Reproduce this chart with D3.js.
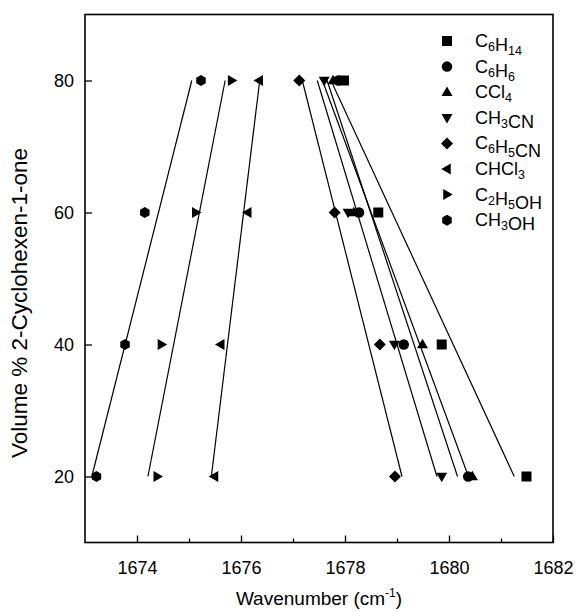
<!DOCTYPE html>
<html>
<head>
<meta charset="utf-8">
<script src="https://cdn.jsdelivr.net/npm/d3@7"></script>
<style>
  body { margin: 0; background: #fff; }
  text { font-family: "Liberation Sans", Arial, sans-serif; fill: #000; }
</style>
</head>
<body>
<div id="chart"></div>
<script>
// Data ===================================================
var volumes = [20, 40, 60, 80];

var c6h14  = [1681.49, 1679.86, 1678.64, 1677.98];
var c6h6   = [1680.37, 1679.13, 1678.27, 1677.87];
var ccl4   = [1680.45, 1679.49, 1678.17, 1677.77];
var ch3cn  = [1679.86, 1678.95, 1678.06, 1677.60];
var c6h5cn = [1678.96, 1678.67, 1677.80, 1677.12];
var chcl3  = [1675.49, 1675.61, 1676.13, 1676.35];
var c2h5oh = [1674.39, 1674.47, 1675.13, 1675.82];
var ch3oh  = [1673.22, 1673.77, 1674.15, 1675.23];

var solventNames = ["C6H14", "C6H6", "CCl4", "CH3CN", "C6H5CN", "CHCl3", "C2H5OH", "CH3OH"];
var solventValues = [c6h14, c6h6, ccl4, ch3cn, c6h5cn, chcl3, c2h5oh, ch3oh];
var markerKinds = ["square", "circle", "up", "down", "diamond", "left", "right", "hexagon"];

var xTicks = [1674, 1676, 1678, 1680, 1682];
var xMinorTicks = [1675, 1677, 1679, 1681];
var yTicks = [20, 40, 60, 80];

// Canvas ==================================================
var width = 580;
var height = 612;

var svg = d3.select("#chart")
    .append("svg")
    .attr("width", width)
    .attr("height", height);

var xScale = d3.scaleLinear().domain([1673, 1682]).range([85, 553]);
var yScale = d3.scaleLinear().domain([10, 90]).range([542.5, 14.5]);

// Marker shapes (r = half size)
function markerPath(kind, r) {
  var pts;
  if (kind === "square") {
    pts = [[-r, -r], [r, -r], [r, r], [-r, r]];
  } else if (kind === "up") {
    pts = [[0, -r * 1.15], [r * 1.1, r * 0.75], [-r * 1.1, r * 0.75]];
  } else if (kind === "down") {
    pts = [[0, r * 1.15], [r * 1.1, -r * 0.75], [-r * 1.1, -r * 0.75]];
  } else if (kind === "left") {
    pts = [[-r * 1.15, 0], [r * 0.75, -r * 1.1], [r * 0.75, r * 1.1]];
  } else if (kind === "right") {
    pts = [[r * 1.15, 0], [-r * 0.75, -r * 1.1], [-r * 0.75, r * 1.1]];
  } else if (kind === "diamond") {
    pts = [[0, -r * 1.2], [r * 1.2, 0], [0, r * 1.2], [-r * 1.2, 0]];
  } else if (kind === "hexagon") {
    pts = d3.range(6).map(function(i) {
      var a = Math.PI / 6 + i * Math.PI / 3;
      return [r * 1.1 * Math.cos(a), r * 1.1 * Math.sin(a)];
    });
  } else {
    return d3.symbol().type(d3.symbolCircle).size(Math.PI * r * r * 1.1)();
  }
  return "M" + pts.map(function(p) { return p.join(","); }).join("L") + "Z";
}

// Frame and axes ==========================================
svg.append("rect")
    .attr("x", xScale(1673))
    .attr("y", yScale(90))
    .attr("width", xScale(1682) - xScale(1673))
    .attr("height", yScale(10) - yScale(90))
    .attr("fill", "none")
    .attr("stroke", "#000")
    .attr("stroke-width", 1.6);

var xAxis = d3.axisBottom(xScale).tickValues(xTicks).tickSize(-7).tickPadding(19).tickFormat(d3.format("d"));
var xAxisMinor = d3.axisBottom(xScale).tickValues(xMinorTicks).tickSize(-4).tickFormat("");
var yAxis = d3.axisLeft(yScale).tickValues(yTicks).tickSize(-7).tickPadding(11);

svg.append("g").attr("transform", `translate(0, ${yScale(10)})`).call(xAxis);
svg.append("g").attr("transform", `translate(0, ${yScale(10)})`).call(xAxisMinor);
svg.append("g").attr("transform", `translate(${xScale(1673)}, 0)`).call(yAxis);

svg.selectAll(".domain").remove();
svg.selectAll(".tick line").attr("stroke", "#000").attr("stroke-width", 1.3);
svg.selectAll(".tick text").attr("font-size", 18).attr("font-family", "Liberation Sans, Arial, sans-serif");

// Axis titles
svg.append("text")
    .attr("x", (xScale(1673) + xScale(1682)) / 2)
    .attr("y", 605)
    .attr("text-anchor", "middle")
    .attr("font-size", 19)
    .call(function(t) {
      t.append("tspan").text("Wavenumber (cm");
      t.append("tspan").attr("dy", -8).attr("font-size", 12).text("-1");
      t.append("tspan").attr("dy", 8).text(")");
    });

svg.append("text")
    .attr("transform", "translate(27, 303) rotate(-90)")
    .attr("text-anchor", "middle")
    .attr("font-size", 22.5)
    .text("Volume % 2-Cyclohexen-1-one");

// Linear fits (wavenumber against volume) ==================
function fitLine(values) {
  var my = d3.mean(volumes);
  var mx = d3.mean(values);
  var sxy = d3.sum(volumes, function(v, i) { return (v - my) * (values[i] - mx); });
  var syy = d3.sum(volumes, function(v) { return (v - my) * (v - my); });
  var b = sxy / syy;
  return [20, 80].map(function(v) { return [mx + b * (v - my), v]; });
}

var line = d3.line()
    .x(function(d) { return xScale(d[0]); })
    .y(function(d) { return yScale(d[1]); });

svg.append("g").selectAll("path")
    .data(solventValues)
    .enter()
    .append("path")
    .attr("d", function(d) { return line(fitLine(d)); })
    .attr("fill", "none")
    .attr("stroke", "#000")
    .attr("stroke-width", 1.2);

// Points ===================================================
solventValues.forEach(function(values, s) {
  svg.append("g").selectAll("path")
      .data(values)
      .enter()
      .append("path")
      .attr("transform", function(d, i) {
        return `translate(${xScale(d)}, ${yScale(volumes[i])})`;
      })
      .attr("d", markerPath(markerKinds[s], 5))
      .attr("fill", "#000");
});

// Legend ===================================================
var legend = svg.append("g").attr("transform", "translate(447, 41)");

solventNames.forEach(function(name, i) {
  var row = legend.append("g").attr("transform", `translate(0, ${i * 25.6})`);
  row.append("path").attr("d", markerPath(markerKinds[i], 5)).attr("fill", "#000");
  var t = row.append("text")
      .attr("x", 28)
      .attr("y", 6)
      .attr("font-size", 18);
  // digits are subscripts
  name.match(/\d+|\D+/g).forEach(function(part) {
    if (/\d/.test(part)) {
      t.append("tspan").attr("dy", 4).attr("font-size", 12.5).text(part);
      t.append("tspan").attr("dy", -4).text("");
    } else {
      t.append("tspan").text(part);
    }
  });
});
</script>
</body>
</html>
